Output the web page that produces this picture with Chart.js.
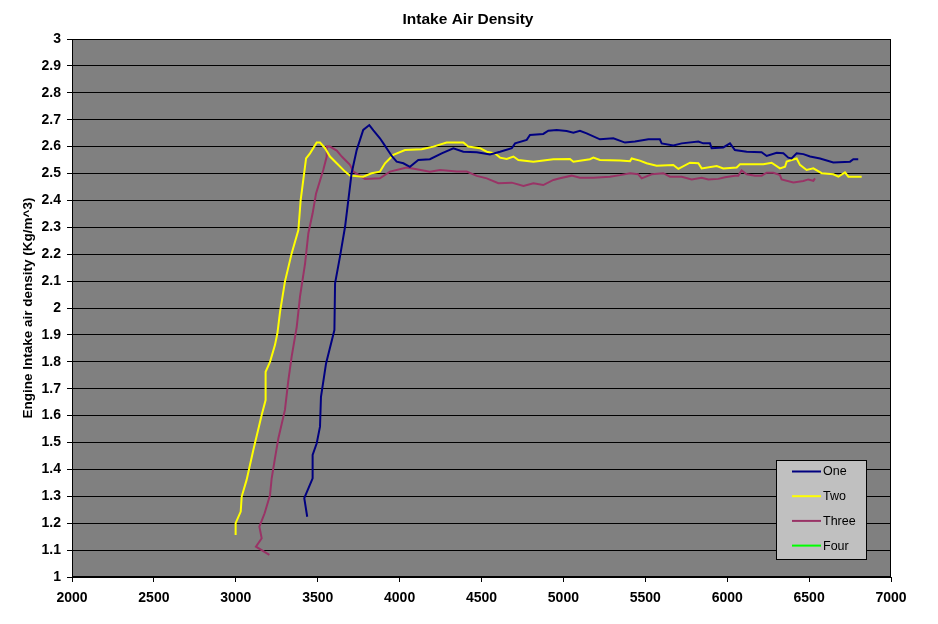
<!DOCTYPE html>
<html>
<head>
<meta charset="utf-8">
<script src="https://cdn.jsdelivr.net/npm/chart.js@4/dist/chart.umd.min.js"></script>
<style>
html,body{margin:0;padding:0;background:#fff;}
#wrap{width:938px;height:624px;position:relative;}
</style>
</head>
<body>
<div id="wrap"><canvas id="c" width="938" height="624"></canvas></div>
<script>
const chartTitle = "Intake Air Density";
const yAxisTitle = "Engine Intake air density (Kg/m^3)";
const seriesNames = ["One", "Two", "Three", "Four"];
const seriesColors = ["#000080", "#FFFF00", "#993366", "#00FF00"];

const oneX = [3436,3418,3469,3469,3494,3514,3520,3551,3602,3606,3636,3667,3687,3707,3738,3778,3815,3840,3880,3901,3952,3982,4023,4063,4114,4185,4257,4328,4389,4471,4552,4613,4685,4705,4776,4796,4877,4908,4959,5020,5061,5101,5142,5223,5305,5376,5437,5519,5589,5600,5671,5722,5824,5854,5895,5905,5976,6017,6047,6119,6210,6241,6302,6343,6373,6393,6424,6465,6506,6567,6648,6750,6770,6800];
const oneY = [1.224,1.293,1.367,1.454,1.497,1.559,1.670,1.794,1.918,2.092,2.191,2.302,2.401,2.501,2.587,2.662,2.680,2.660,2.631,2.612,2.565,2.544,2.538,2.525,2.550,2.553,2.575,2.594,2.581,2.579,2.571,2.581,2.594,2.612,2.625,2.643,2.647,2.659,2.662,2.658,2.652,2.659,2.649,2.627,2.631,2.615,2.619,2.627,2.627,2.612,2.604,2.612,2.619,2.612,2.612,2.594,2.597,2.612,2.587,2.581,2.579,2.565,2.577,2.575,2.559,2.556,2.575,2.572,2.563,2.556,2.541,2.544,2.553,2.553];

const twoX = [2999,2999,3030,3036,3066,3107,3158,3182,3182,3209,3239,3254,3270,3300,3341,3382,3396,3429,3453,3494,3514,3545,3575,3616,3667,3697,3778,3829,3880,3911,3962,4033,4135,4206,4287,4389,4419,4491,4532,4582,4613,4654,4695,4725,4817,4939,5040,5061,5162,5183,5223,5346,5407,5417,5467,5508,5569,5671,5702,5773,5824,5844,5936,5976,6058,6078,6221,6271,6322,6353,6363,6424,6444,6485,6526,6577,6648,6679,6719,6740,6821];
const twoY = [1.156,1.200,1.243,1.299,1.361,1.472,1.602,1.658,1.763,1.800,1.862,1.906,1.986,2.098,2.203,2.290,2.401,2.556,2.575,2.615,2.615,2.594,2.563,2.538,2.507,2.492,2.488,2.501,2.507,2.538,2.569,2.587,2.590,2.600,2.615,2.615,2.600,2.594,2.581,2.575,2.559,2.554,2.563,2.550,2.544,2.553,2.554,2.544,2.553,2.559,2.550,2.548,2.546,2.556,2.548,2.538,2.529,2.532,2.517,2.540,2.538,2.519,2.528,2.519,2.522,2.534,2.534,2.540,2.519,2.525,2.544,2.556,2.532,2.513,2.519,2.501,2.497,2.488,2.504,2.488,2.488];

const threeX = [3205,3123,3158,3144,3176,3209,3219,3239,3260,3300,3321,3341,3372,3392,3423,3443,3469,3490,3534,3555,3555,3575,3616,3647,3697,3718,3789,3880,3941,4043,4104,4185,4247,4349,4410,4471,4532,4603,4685,4756,4817,4877,4939,4979,5050,5101,5183,5284,5346,5407,5457,5478,5539,5610,5651,5722,5783,5844,5885,5946,5987,6047,6068,6088,6119,6170,6210,6241,6282,6322,6332,6404,6465,6495,6526,6536];
const threeY = [1.082,1.113,1.144,1.187,1.237,1.305,1.367,1.441,1.516,1.621,1.732,1.819,1.930,2.042,2.166,2.278,2.352,2.426,2.513,2.563,2.600,2.600,2.585,2.563,2.532,2.507,2.480,2.482,2.507,2.522,2.516,2.507,2.513,2.507,2.507,2.491,2.482,2.464,2.466,2.454,2.464,2.457,2.476,2.482,2.492,2.484,2.484,2.488,2.494,2.501,2.497,2.482,2.497,2.501,2.488,2.488,2.478,2.484,2.478,2.480,2.486,2.492,2.492,2.511,2.497,2.492,2.492,2.503,2.503,2.494,2.478,2.467,2.472,2.478,2.473,2.482];

const fourX = [];
const fourY = [];

const xTicks = [2000,2500,3000,3500,4000,4500,5000,5500,6000,6500,7000];
const yMin = 1, yMax = 3, yStep = 0.1;

function pts(xs, ys){ return xs.map((x,i)=>({x:x, y:ys[i]})); }
const allX = [oneX, twoX, threeX, fourX];
const allY = [oneY, twoY, threeY, fourY];

const FONT = "'Liberation Sans', Arial, sans-serif";

const bgPlugin = {
  id: 'plotBg',
  beforeDraw(chart){
    const {ctx, chartArea:a} = chart;
    ctx.save();
    ctx.fillStyle = '#808080';
    ctx.fillRect(a.left, a.top, a.right-a.left, a.bottom-a.top);
    ctx.restore();
  },
  afterDraw(chart){
    const {ctx, chartArea:a} = chart;
    ctx.save();
    ctx.strokeStyle = '#000';
    ctx.lineWidth = 1;
    ctx.strokeRect(a.left+0.5, a.top+0.5, a.right-a.left-1, a.bottom-a.top-1);
    ctx.fillStyle = '#000';
    ctx.font = "bold 15.5px " + FONT;
    ctx.textAlign = 'center';
    ctx.textBaseline = 'middle';
    ctx.fillText(chartTitle, 468, 20);
    const w = 91, h = 100;
    const bx = a.right - 24 - w, by = a.bottom - 17 - h;
    ctx.fillStyle = '#C0C0C0';
    ctx.fillRect(bx, by, w, h);
    ctx.strokeStyle = '#000';
    ctx.strokeRect(bx+0.5, by+0.5, w-1, h-1);
    ctx.font = "12.5px " + FONT;
    ctx.textAlign = 'left';
    ctx.textBaseline = 'middle';
    chart.data.datasets.forEach((ds, i) => {
      const yy = by + 11.5 + i*24.7;
      ctx.strokeStyle = ds.borderColor;
      ctx.lineWidth = 2;
      ctx.beginPath();
      ctx.moveTo(bx+16, yy);
      ctx.lineTo(bx+45, yy);
      ctx.stroke();
      ctx.fillStyle = '#000';
      ctx.fillText(ds.label, bx+47, yy+0.5);
    });
    ctx.restore();
  }
};

new Chart(document.getElementById('c'), {
  type: 'scatter',
  data: {
    datasets: seriesNames.map((n,i)=>({
      label: n,
      data: pts(allX[i], allY[i]),
      showLine: true,
      borderColor: seriesColors[i],
      backgroundColor: seriesColors[i],
      borderWidth: 2,
      pointRadius: 0,
      tension: 0
    }))
  },
  options: {
    responsive: false,
    animation: false,
    devicePixelRatio: 1,
    layout: { padding: { top: 39, right: 47, left: 0, bottom: 0 } },
    plugins: { legend: { display: false }, title: { display: false }, tooltip: { enabled: false } },
    scales: {
      x: {
        type: 'linear',
        min: 2000, max: 7000,
        afterBuildTicks(s){ s.ticks = xTicks.map(v=>({value:v})); },
        afterFit(s){ s.height = 47; },
        grid: { drawOnChartArea: false, drawTicks: true, tickLength: 5, color: '#000' },
        border: { color: '#000' },
        ticks: { color: '#000', padding: 8, maxRotation: 0, font: { family: FONT, size: 14, weight: 'bold' },
          callback: v => String(v) }
      },
      y: {
        type: 'linear',
        min: yMin, max: yMax,
        ticks: {
          stepSize: yStep, color: '#000', padding: 6,
          font: { family: FONT, size: 14, weight: 'bold' },
          callback: v => String(Number(v.toFixed(1)))
        },
        afterFit(s){ s.width = 72; },
        grid: { color: '#000', tickLength: 5, drawTicks: true },
        border: { color: '#000' },
        title: { display: true, text: yAxisTitle, color: '#000', padding: { top: 20, bottom: 0 }, font: { family: FONT, size: 13.5, weight: 'bold' } }
      }
    }
  },
  plugins: [bgPlugin]
});
</script>
</body>
</html>
